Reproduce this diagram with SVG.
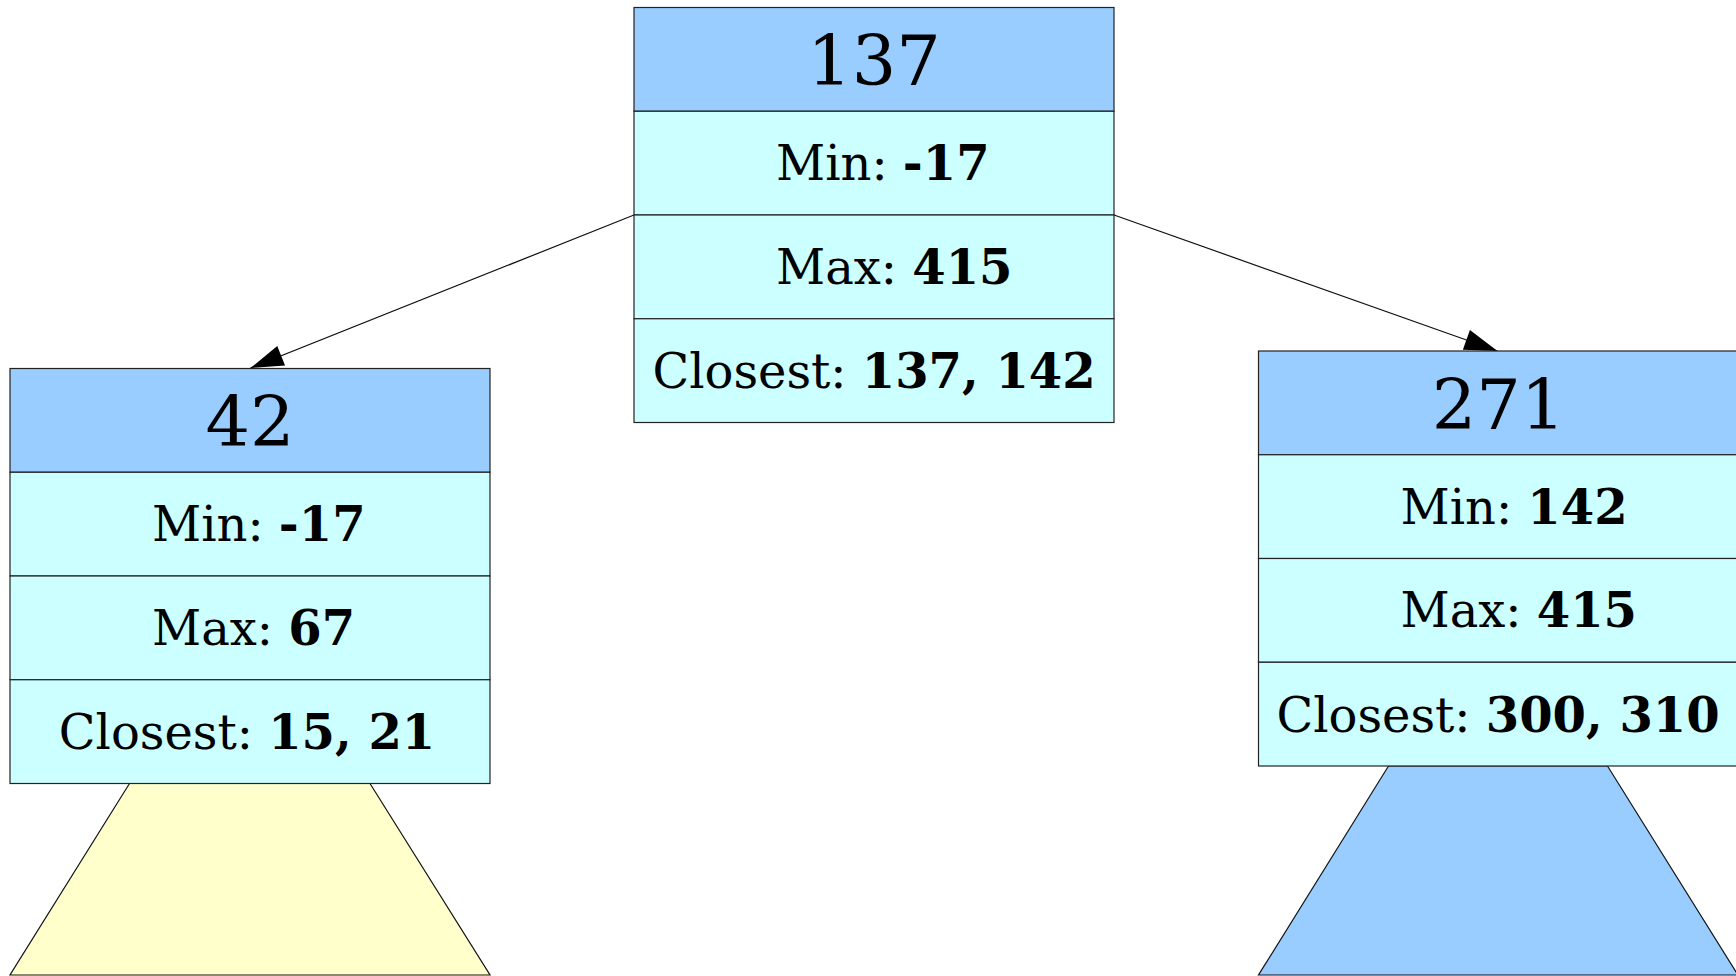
<svg xmlns="http://www.w3.org/2000/svg" width="1736" height="976" viewBox="0 0 1736 976">
<style>
.hdr{fill:#99ccff;stroke:#222;stroke-width:1.2}
.row{fill:#ccffff;stroke:#222;stroke-width:1.2}
.big{font-family:"DejaVu Serif",serif;font-size:70px;fill:#000;text-anchor:middle}
.lbl{font-family:"DejaVu Serif",serif;font-size:48px;fill:#000}
.mid{text-anchor:middle}
.b{font-weight:bold}
.edge{stroke:#111;stroke-width:1.2;fill:none}
.tri{stroke:#111;stroke-width:1.2}
</style>
<defs>
<marker id="ah" markerUnits="userSpaceOnUse" markerWidth="40" markerHeight="30" refX="33" refY="0" orient="auto" overflow="visible">
<path d="M0,-10.5 L33,0 L0,10.5 z" fill="#000"/>
</marker>
</defs>
<g id="subtree-left">
<polygon class="tri" points="129.5,783.5 370,783.5 490,975 10,975" fill="#ffffcc"/>
</g>
<g id="subtree-right">
<polygon class="tri" points="1388.5,766 1607.5,766 1738,975 1258.5,975" fill="#99ccff"/>
</g>
<g id="connectors">
<line class="edge" x1="634" y1="215" x2="250.5" y2="368" marker-end="url(#ah)"/>
<line class="edge" x1="1114" y1="215" x2="1497.5" y2="351" marker-end="url(#ah)"/>
</g>
<g id="node-137">
<rect class="hdr" x="634" y="7.5" width="480" height="103.75"/>
<rect class="row" x="634" y="111.25" width="480" height="103.75"/>
<rect class="row" x="634" y="215" width="480" height="103.75"/>
<rect class="row" x="634" y="318.75" width="480" height="103.75"/>
<text class="big" x="874" y="85">137</text>
<text class="lbl" x="776" y="180">Min: <tspan class="b">-17</tspan></text>
<text class="lbl" x="776" y="283.5">Max: <tspan class="b">415</tspan></text>
<text class="lbl mid" x="874" y="388">Closest: <tspan class="b">137, 142</tspan></text>
</g>
<g id="node-42">
<rect class="hdr" x="10" y="368.5" width="480" height="103.75"/>
<rect class="row" x="10" y="472.25" width="480" height="103.75"/>
<rect class="row" x="10" y="576" width="480" height="103.75"/>
<rect class="row" x="10" y="679.75" width="480" height="103.75"/>
<text class="big" x="250" y="445.5">42</text>
<text class="lbl" x="152" y="541">Min: <tspan class="b">-17</tspan></text>
<text class="lbl" x="152" y="644.5">Max: <tspan class="b">67</tspan></text>
<text class="lbl mid" x="247" y="749">Closest: <tspan class="b">15, 21</tspan></text>
</g>
<g id="node-271">
<rect class="hdr" x="1258.5" y="351" width="480" height="103.75"/>
<rect class="row" x="1258.5" y="454.75" width="480" height="103.75"/>
<rect class="row" x="1258.5" y="558.5" width="480" height="103.75"/>
<rect class="row" x="1258.5" y="662.25" width="480" height="103.75"/>
<text class="big" x="1498.5" y="428.5">271</text>
<text class="lbl" x="1400.5" y="523.5">Min: <tspan class="b">142</tspan></text>
<text class="lbl" x="1400.5" y="627">Max: <tspan class="b">415</tspan></text>
<text class="lbl mid" x="1498" y="731.5">Closest: <tspan class="b">300, 310</tspan></text>
</g>
</svg>
